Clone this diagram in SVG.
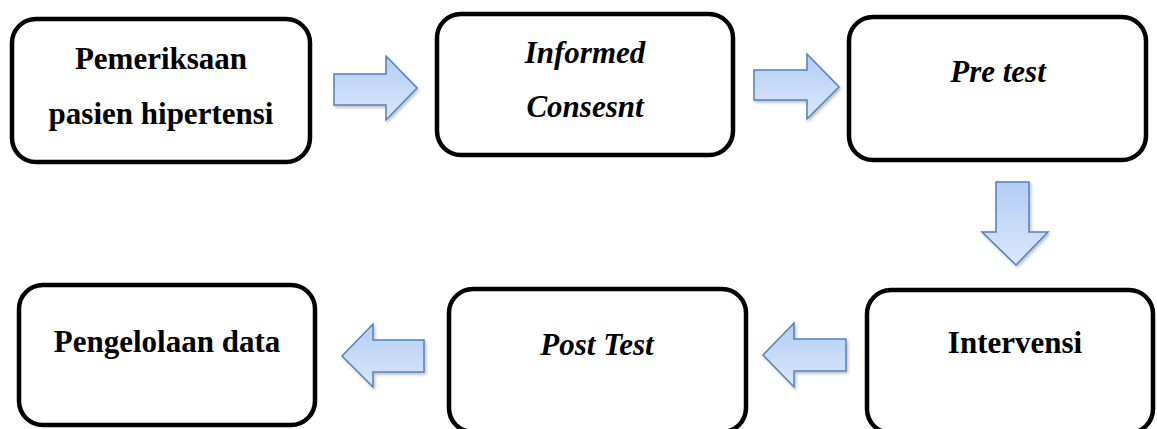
<svg xmlns="http://www.w3.org/2000/svg" width="1157" height="429" viewBox="0 0 1157 429">
<style>
.box{fill:#fff;stroke:#000;stroke-width:4.5}
text{font-family:'Liberation Serif','Times New Roman','DejaVu Serif',serif;font-size:31px;font-weight:bold;fill:#000;text-anchor:middle}
.i{font-style:italic}
.arr{fill:url(#g);stroke:#4f81bd;stroke-width:1.5;stroke-linejoin:miter;filter:url(#sh)}
</style>
<defs>
<linearGradient id="g" x1="0" y1="0" x2="0" y2="1">
<stop offset="0" stop-color="#b3cdf4"/>
<stop offset="1" stop-color="#dbe7fb"/>
</linearGradient>
<filter id="sh" x="-20%" y="-20%" width="150%" height="150%">
<feDropShadow dx="1.5" dy="2" stdDeviation="1.5" flood-color="#000" flood-opacity="0.25"/>
</filter>
</defs>
<g id="node-pemeriksaan">
<rect class="box" x="12" y="19" width="298" height="143" rx="24"/>
<text font-family="Liberation Serif, serif" x="161" y="69">Pemeriksaan</text>
<text font-family="Liberation Serif, serif" x="161" y="124">pasien hipertensi</text>
</g>
<g id="node-informed">
<rect class="box" x="437" y="14" width="296" height="141" rx="24"/>
<text class="i" font-family="Liberation Serif, serif" x="585" y="63">Informed</text>
<text class="i" font-family="Liberation Serif, serif" x="585" y="117">Consesnt</text>
</g>
<g id="node-pretest">
<rect class="box" x="849" y="17" width="297" height="143" rx="24"/>
<text class="i" font-family="Liberation Serif, serif" x="998" y="82">Pre test</text>
</g>
<g id="node-intervensi">
<rect class="box" x="867" y="290" width="286" height="143" rx="24"/>
<text font-family="Liberation Serif, serif" x="1015" y="353">Intervensi</text>
</g>
<g id="node-posttest">
<rect class="box" x="449" y="289" width="297" height="143" rx="24"/>
<text class="i" font-family="Liberation Serif, serif" x="597" y="355">Post Test</text>
</g>
<g id="node-pengelolaan">
<rect class="box" x="19" y="285" width="296" height="140" rx="24"/>
<text font-family="Liberation Serif, serif" x="167" y="352">Pengelolaan data</text>
</g>
<g id="connectors">
<polygon class="arr" points="334,74 386,74 386,56 417,88 386,120 386,105 334,105"/>
<polygon class="arr" points="754,70 807,70 807,54 839,87 807,119 807,100 754,100"/>
<polygon class="arr" points="996,182 1029,182 1029,232 1048,232 1016,265 982,232 996,232"/>
<polygon class="arr" points="846,339 794,339 794,323 763,355 794,387 794,371 846,371"/>
<polygon class="arr" points="424,340 373,340 373,324 342,356 373,387 373,372 424,372"/>
</g>
</svg>
